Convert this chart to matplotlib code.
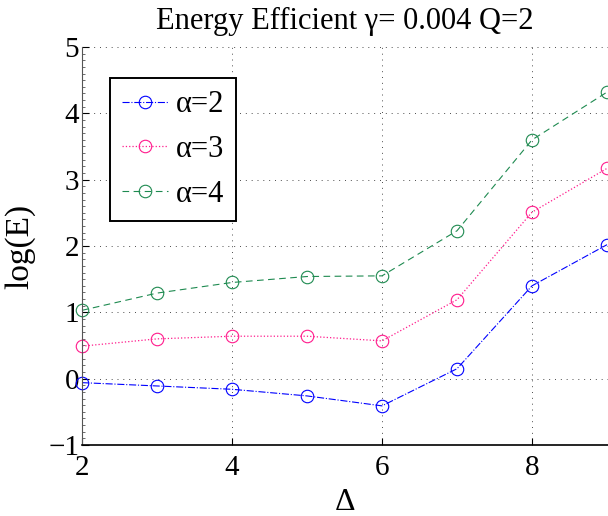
import numpy as np
import matplotlib
matplotlib.use("Agg")
import matplotlib.pyplot as plt
from matplotlib.ticker import MultipleLocator

plt.rcParams['font.family'] = ['Liberation Serif', 'DejaVu Serif']
plt.rcParams['mathtext.fontset'] = 'stix'

# data
delta = [2, 3, 4, 5, 6, 7, 8, 9]
E_a2 = [-0.06, -0.11, -0.16, -0.26, -0.41, 0.15, 1.40, 2.02]
E_a3 = [0.49, 0.60, 0.64, 0.64, 0.57, 1.19, 2.51, 3.17]
E_a4 = [1.03, 1.29, 1.45, 1.54, 1.55, 2.23, 3.60, 4.32]
labels = ['α=2', 'α=3', 'α=4']

fig = plt.figure(figsize=(6.08, 5.16), dpi=100)
ax = fig.add_axes([82 / 608, 71 / 516, 526 / 608, 398 / 516])

ax.plot(delta, E_a2, color='#0000ff', linestyle='-.', marker='o', mfc='none',
        markersize=9, mew=0.8, linewidth=0.8, label=labels[0], clip_on=False)
ax.plot(delta, E_a3, color='#ff1a8c', linestyle=':', marker='o', mfc='none',
        markersize=9, mew=0.8, linewidth=0.9, label=labels[1], clip_on=False)
ax.plot(delta, E_a4, color='#1e8a50', linestyle=(0, (6, 4)), marker='o', mfc='none',
        markersize=9, mew=0.8, linewidth=0.8, label=labels[2], clip_on=False)

ax.set_xlim(2, 9.013)
ax.set_ylim(-1, 5)
ax.set_xticks([2, 4, 6, 8])
ax.set_yticks([-1, 0, 1, 2, 3, 4, 5])
ax.set_yticklabels(['\u22121', '0', '1', '2', '3', '4', '5'])
ax.yaxis.set_minor_locator(MultipleLocator(0.1))

ax.grid(True, which='major', color='k', linestyle=(0, (1, 5)), linewidth=0.7, alpha=0.7)
ax.spines['top'].set_visible(False)
ax.spines['right'].set_visible(False)
ax.spines['left'].set_color('#555555')
ax.spines['bottom'].set_linewidth(1.2)

ax.tick_params(axis='both', which='major', direction='in', length=5, width=0.8,
               labelsize=21, pad=2)
ax.tick_params(axis='x', which='major', pad=7)
ax.tick_params(axis='y', which='minor', direction='in', length=2, width=0.6,
               color='#555555')

ax.set_title('Energy Efficient γ= 0.004 Q=2', fontsize=22, pad=13)
ax.set_xlabel('Δ', fontsize=23, labelpad=5)
ax.set_ylabel('log(E)', fontsize=24, labelpad=9)

leg = ax.legend(loc='upper left', bbox_to_anchor=(0.053, 0.922), fontsize=22,
                fancybox=False, edgecolor='k', framealpha=1, handlelength=1.5,
                handletextpad=0.25, borderpad=0.4, labelspacing=0.52,
                borderaxespad=0)
leg.get_frame().set_linewidth(1.4)

fig.savefig('out.png', dpi=100)
